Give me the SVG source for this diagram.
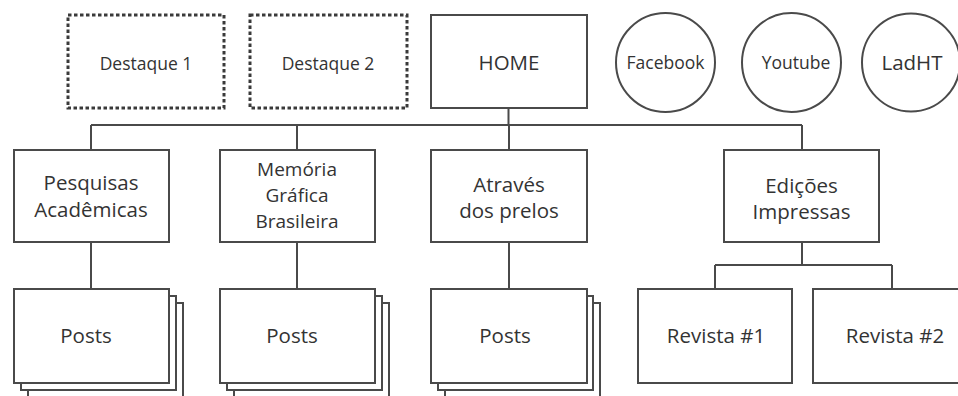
<svg xmlns="http://www.w3.org/2000/svg" width="958" height="396" viewBox="0 0 958 396">
  <style>
    .box { fill: #ffffff; stroke: #4a4a4a; stroke-width: 2; }
    .dotted { fill: #ffffff; stroke: #3a3a3a; stroke-width: 3; stroke-dasharray: 3.5 2.5; }
    .link { fill: none; stroke: #4a4a4a; stroke-width: 2; }
    text { font-family: "Open Sans", "Liberation Sans", sans-serif; fill: #333333; text-anchor: middle; }
    .lg { font-size: 20.5px; }
    .md { font-size: 19px; }
    .sm { font-size: 17.5px; }
  </style>
  <defs>
    <!-- stacked page outlines drawn behind a Posts box -->
    <g id="stack">
      <rect class="box" x="28" y="303" width="155" height="94"/>
      <rect class="box" x="21" y="296" width="155" height="94"/>
    </g>
  </defs>
  <rect width="958" height="396" fill="#ffffff"/>

  <!-- connectors -->
  <g id="connectors">
    <path class="link" d="M508.5 108 V125 M91 125 H802 M91 125 V150 M297 125 V150 M509 125 V150 M802 125 V150"/>
    <path class="link" d="M91 242 V289 M297 242 V289 M509 242 V289"/>
    <path class="link" d="M802 242 V265 M715 265 H892 M715 265 V289 M892 265 V289"/>
  </g>

  <!-- top row -->
  <g id="destaque1">
    <rect class="dotted" x="68" y="15" width="156" height="93"/>
    <text class="sm" x="146" y="70">Destaque 1</text>
  </g>
  <g id="destaque2">
    <rect class="dotted" x="250" y="15" width="157" height="93"/>
    <text class="sm" x="328" y="70">Destaque 2</text>
  </g>
  <g id="home">
    <rect class="box" x="431" y="15" width="156" height="93"/>
    <text class="lg" x="509" y="70">HOME</text>
  </g>
  <g id="facebook">
    <circle class="box" cx="665.5" cy="62.5" r="49.5"/>
    <text class="sm" x="665.5" y="69">Facebook</text>
  </g>
  <g id="youtube">
    <circle class="box" cx="791.5" cy="62.5" r="49.5"/>
    <text class="sm" x="796" y="69">Youtube</text>
  </g>
  <g id="ladht">
    <circle class="box" cx="911" cy="62.5" r="49"/>
    <text class="lg" x="912" y="70">LadHT</text>
  </g>

  <!-- sections -->
  <g id="pesquisas">
    <rect class="box" x="14" y="150" width="155" height="92"/>
    <text class="lg" x="91" y="190">Pesquisas</text>
    <text class="lg" x="91" y="217">Acadêmicas</text>
  </g>
  <g id="memoria">
    <rect class="box" x="220" y="150" width="155" height="92"/>
    <text class="md" x="297" y="176">Memória</text>
    <text class="md" x="297" y="202">Gráfica</text>
    <text class="md" x="297" y="228">Brasileira</text>
  </g>
  <g id="atraves">
    <rect class="box" x="431" y="150" width="156" height="92"/>
    <text class="lg" x="509" y="192">Através</text>
    <text class="lg" x="509" y="218">dos prelos</text>
  </g>
  <g id="edicoes">
    <rect class="box" x="724" y="150" width="155" height="92"/>
    <text class="lg" x="801.5" y="193">Edições</text>
    <text class="lg" x="801.5" y="219">Impressas</text>
  </g>

  <!-- posts -->
  <g id="posts1">
    <use href="#stack"/>
    <rect class="box" x="14" y="289" width="155" height="94"/>
    <text class="lg" x="86" y="343">Posts</text>
  </g>
  <g id="posts2">
    <use href="#stack" x="206"/>
    <rect class="box" x="220" y="289" width="155" height="94"/>
    <text class="lg" x="292" y="343">Posts</text>
  </g>
  <g id="posts3">
    <use href="#stack" x="417"/>
    <rect class="box" x="431" y="289" width="156" height="94"/>
    <text class="lg" x="505" y="343">Posts</text>
  </g>

  <!-- magazines -->
  <g id="revista1">
    <rect class="box" x="638" y="289" width="154" height="94"/>
    <text class="lg" x="716" y="343">Revista #1</text>
  </g>
  <g id="revista2">
    <rect class="box" x="813" y="289" width="155" height="94"/>
    <text class="lg" x="895" y="343">Revista #2</text>
  </g>
</svg>
